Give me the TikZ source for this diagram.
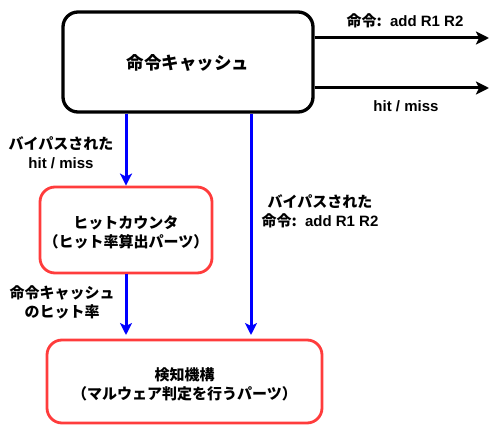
\documentclass[tikz,border=0pt]{standalone}
\usepackage{fontspec}
\setmainfont{Liberation Sans}
\newfontfamily\jp{Noto Sans CJK JP Bold}
\usetikzlibrary{arrows.meta}
\definecolor{boxred}{RGB}{255,60,60}
\begin{document}
\begin{tikzpicture}[x=1pt,y=-1pt,
  txt/.style={font=\bfseries\fontsize{15}{19}\selectfont, align=center, inner sep=0pt},
  bigbox/.style={draw=black, line width=3.3pt, rounded corners=15pt, fill=white},
  redbox/.style={draw=boxred, line width=2.8pt, rounded corners=15pt, fill=white},
  blk/.style={draw=black, line width=3pt, -{Stealth[length=13pt,width=13pt,inset=3pt]}},
  blu/.style={draw=blue, line width=3pt, -{Stealth[length=12pt,width=12pt,inset=3pt]}}
]
\useasboundingbox (0,0) rectangle (490,425);
\node[bigbox, minimum width=250pt, minimum height=100pt] (top) at (188,62) {};
\node[txt, font=\bfseries\fontsize{17.5}{20}\selectfont] (toptxt) at (188,63) {\jp 命令キャッシュ};
\node[redbox, minimum width=172pt, minimum height=86pt] (hit) at (126,230) {};
\node[txt] (hittxt) at (126,232) {\jp ヒットカウンタ\\\jp （ヒット率算出パーツ）};
\node[redbox, minimum width=275pt, minimum height=83pt] (det) at (184.5,381.5) {};
\node[txt] (dettxt) at (184.5,384) {\jp 検知機構\\\jp （マルウェア判定を行うパーツ）};

\coordinate (o1) at (489,38);
\coordinate (o2) at (489,88);
\coordinate (c2) at (251,335);
\draw[blk] (top.east |- o1) -- (o1);
\draw[blk] (top.east |- o2) -- (o2);
\draw[blu] (hit.north |- top.south) -- (hit.north);
\draw[blu] (top.south -| c2) -- (c2);
\draw[blu] (hit.south) -- (hit.south |- c2);

\node[txt] (l1) at (405,21) {{\jp 命令:}\hspace{0.55em}add R1 R2};
\node[txt] (l2) at (406,106) {hit / miss};
\node[txt] (l3) at (61,153) {{\jp バイパスされた}\\hit / miss};
\node[txt] (l4) at (320,211) {{\jp バイパスされた}\\{\jp 命令:}\hspace{0.55em}add R1 R2};
\node[txt] (l5) at (62,302) {{\jp 命令キャッシュ}\\{\jp のヒット率}};
\end{tikzpicture}
\end{document}
